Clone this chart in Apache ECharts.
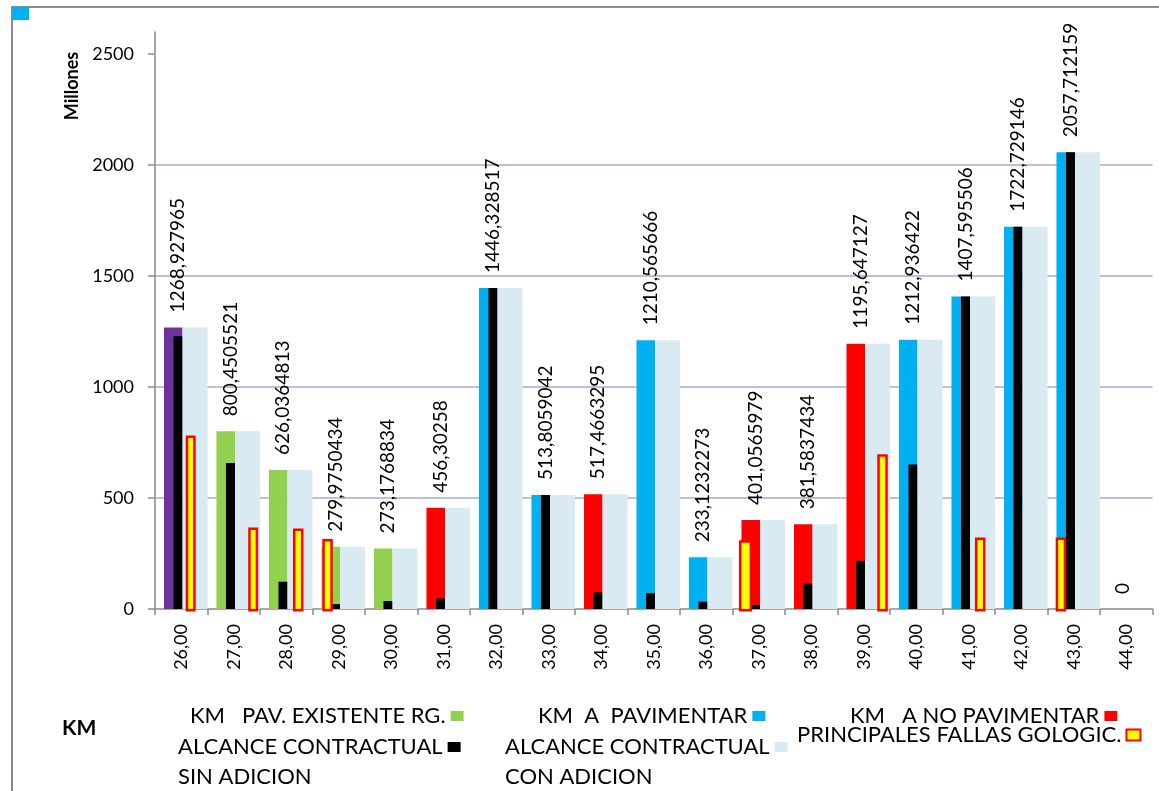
<!DOCTYPE html>
<html>
<head>
<meta charset="utf-8">
<script src="https://cdn.jsdelivr.net/npm/echarts@6/dist/echarts.min.js"></script>
<style>
  html, body { margin: 0; padding: 0; background: #ffffff; }
  #chart { width: 1159px; height: 791px; }
</style>
</head>
<body>
<div id="chart"></div>
<script>
// Kilometre marks along the road (category axis)
const kmMarks = [26, 27, 28, 29, 30, 31, 32, 33, 34, 35, 36, 37, 38, 39, 40, 41, 42, 43, 44];

// Contract scope with addition (millions) – also the printed value of each group
const conAdicion = [1268.927965, 800.4505521, 626.0364813, 279.9750434, 273.1768834, 456.30258,
  1446.328517, 513.8059042, 517.4663295, 1210.565666, 233.1232273, 401.0565979, 381.5837434,
  1195.647127, 1212.936422, 1407.595506, 1722.729146, 2057.712159, 0];

// Contract scope without addition (millions)
const sinAdicion = [1229, 658, 123, 22, 36, 48, 1446.328517, 513.8059042, 75, 71, 33, 18, 115,
  217, 651, 1407.595506, 1722.729146, 2057.712159, 0];

// Section type per km mark
const tramoInicial = [1268.927965, null, null, null, null, null, null, null, null, null, null,
  null, null, null, null, null, null, null, null];
const pavExistente = [null, 800.4505521, 626.0364813, 279.9750434, 273.1768834, null, null, null,
  null, null, null, null, null, null, null, null, null, null, null];
const aPavimentar = [null, null, null, null, null, null, 1446.328517, 513.8059042, null, 1210.565666,
  233.1232273, null, null, null, 1212.936422, 1407.595506, 1722.729146, 2057.712159, null];
const aNoPavimentar = [null, null, null, null, null, 456.30258, null, null, 517.4663295, null, null,
  401.0565979, 381.5837434, 1195.647127, null, null, null, null, null];

// Main geological faults (millions)
const fallas = [782, 367, 363, 315, null, null, null, null, null, null, null, 310, null, 697, null,
  322, null, 322, null];

// Y axis ticks
const yTicks = [0, 500, 1000, 1500, 2000, 2500];

// ---- layout of the marks inside one category band (fractions of the band) ----
const SLOT_MAIN = [0.171, 0.524];
const SLOT_SIN = [0.352, 0.524];
const SLOT_CON = [0.524, 1.0];
const SLOT_FALLA = { 0: [0.585, 0.19], 1: [0.775, 0.19], 2: [0.629, 0.2], 3: [0.187, 0.2],
  11: [0.124, 0.25], 13: [0.758, 0.2], 15: [0.619, 0.2], 17: [0.156, 0.2] };
const LABEL_POS = 0.438;

const FONT = 'Lato';
const C = {
  purple: '#7030a0', green: '#92d050', blue: '#00b0f0', red: '#ff0000',
  black: '#000000', light: '#d9eaf2', yellow: '#ffff00', grid: '#b7c3da', axis: '#8a8a8a'
};

const NAMES = {
  pav: 'KM   PAV. EXISTENTE RG.',
  apav: 'KM  A  PAVIMENTAR',
  nopav: 'KM   A NO PAVIMENTAR',
  sin: 'ALCANCE CONTRACTUAL SIN ADICION',
  con: 'ALCANCE CONTRACTUAL CON ADICION',
  fallas: 'PRINCIPALES FALLAS GOLOGIC.'
};

function pairs(arr) {
  const out = [];
  arr.forEach((v, i) => { if (v !== null && v !== undefined) out.push([i, v]); });
  return out;
}

function bandGeom(api, i, v) {
  const top = api.coord([i, v]);
  const base = api.coord([i, 0]);
  const band = api.size([1, 0])[0];
  return { x0: base[0] - band / 2, band: band, top: top[1], base: base[1] };
}

function barRenderer(slot, fill) {
  return function (params, api) {
    const i = api.value(0), v = api.value(1);
    const g = bandGeom(api, i, v);
    return {
      type: 'rect',
      shape: { x: g.x0 + slot[0] * g.band, y: g.top, width: (slot[1] - slot[0]) * g.band, height: g.base - g.top },
      style: { fill: fill }
    };
  };
}

function fmt(v) { return String(v).replace('.', ','); }

function conRenderer(params, api) {
  const i = api.value(0), v = api.value(1);
  const g = bandGeom(api, i, v);
  return {
    type: 'group',
    children: [
      {
        type: 'rect',
        shape: { x: g.x0 + SLOT_CON[0] * g.band, y: g.top, width: (SLOT_CON[1] - SLOT_CON[0]) * g.band, height: g.base - g.top },
        style: { fill: C.light }
      },
      {
        type: 'text',
        x: g.x0 + LABEL_POS * g.band,
        y: g.top - 15,
        rotation: Math.PI / 2,
        style: { text: fmt(v), fill: '#000', fontFamily: FONT, fontSize: 19, align: 'left', verticalAlign: 'middle' }
      }
    ]
  };
}

function fallaRenderer(params, api) {
  const i = api.value(0), v = api.value(1);
  const g = bandGeom(api, i, v);
  const s = SLOT_FALLA[i] || [0.4, 0.2];
  const lw = 2.5;
  return {
    type: 'rect',
    shape: { x: g.x0 + s[0] * g.band + lw / 2, y: g.top + lw / 2, width: s[1] * g.band - lw, height: g.base - g.top },
    style: { fill: C.yellow, stroke: C.red, lineWidth: lw }
  };
}

const chart = echarts.init(document.getElementById('chart'), null, { renderer: 'canvas' });

const legendBase = {
  orient: 'horizontal', align: 'right', padding: 0, itemGap: 0, itemWidth: 13, itemHeight: 10,
  selectedMode: false, icon: 'rect',
  textStyle: { fontFamily: FONT, fontSize: 22, color: '#000', lineHeight: 24 }
};

const option = {
  backgroundColor: '#ffffff',
  animation: false,
  grid: { left: 155, right: 6.5, top: 32, bottom: 182, containLabel: false },
  xAxis: {
    type: 'category',
    data: kmMarks.map(k => k.toFixed(2).replace('.', ',')),
    boundaryGap: true,
    axisLine: { lineStyle: { color: C.axis, width: 1.5 } },
    axisTick: { show: true, length: 6, lineStyle: { color: C.axis, width: 1.5 } },
    axisLabel: { rotate: 90, margin: 15, color: '#000', fontFamily: FONT, fontSize: 18, interval: 0 },
    splitLine: { show: false }
  },
  yAxis: {
    type: 'value',
    min: 0,
    max: 2600,
    interval: 500,
    axisLine: { show: true, lineStyle: { color: C.axis, width: 1.5 } },
    axisTick: { show: true, inside: false, length: 7, customValues: yTicks, lineStyle: { color: C.axis, width: 1.5 } },
    axisLabel: { customValues: yTicks, margin: 21, color: '#000', fontFamily: FONT, fontSize: 18, formatter: v => String(v) },
    splitLine: { show: true, showMinLine: false, showMaxLine: false, lineStyle: { color: C.grid, width: 2 } }
  },
  legend: [
    Object.assign({}, legendBase, { left: 190, top: 704, data: [NAMES.pav] }),
    Object.assign({}, legendBase, { left: 538, top: 704, data: [NAMES.apav] }),
    Object.assign({}, legendBase, { left: 850, top: 704, data: [NAMES.nopav] }),
    Object.assign({}, legendBase, { left: 178, top: 735, data: [NAMES.sin], formatter: () => 'ALCANCE CONTRACTUAL' }),
    Object.assign({}, legendBase, { left: 505, top: 735, data: [NAMES.con], formatter: () => 'ALCANCE CONTRACTUAL' }),
    Object.assign({}, legendBase, {
      left: 797, top: 723,
      itemWidth: 14, itemHeight: 11,
      data: [{ name: NAMES.fallas, itemStyle: { color: C.yellow, borderColor: C.red, borderWidth: 2 } }]
    })
  ],
  graphic: [
    { type: 'polyline', shape: { points: [[12, 791], [12, 7], [1159, 7]] }, style: { stroke: '#8c8c8c', lineWidth: 2, fill: null }, z: 10 },
    { type: 'rect', shape: { x: 12, y: 7, width: 17, height: 13 }, style: { fill: C.blue }, z: 11 },
    { type: 'text', x: 72, y: 86, rotation: Math.PI / 2,
      style: { text: 'Millones', fill: '#000', fontFamily: FONT, fontWeight: 'bold', fontSize: 18, align: 'center', verticalAlign: 'middle' } },
    { type: 'text', x: 62, y: 728,
      style: { text: 'KM', fill: '#000', fontFamily: FONT, fontWeight: 'bold', fontSize: 21, align: 'left', verticalAlign: 'middle' } },
    { type: 'text', x: 178, y: 777,
      style: { text: 'SIN ADICION', fill: '#000', fontFamily: FONT, fontSize: 22, align: 'left', verticalAlign: 'middle' } },
    { type: 'text', x: 505, y: 777,
      style: { text: 'CON ADICION', fill: '#000', fontFamily: FONT, fontSize: 22, align: 'left', verticalAlign: 'middle' } }
  ],
  series: [
    { type: 'custom', name: 'KM 26', data: pairs(tramoInicial), encode: { x: 0, y: 1 },
      itemStyle: { color: C.purple }, renderItem: barRenderer(SLOT_MAIN, C.purple) },
    { type: 'custom', name: NAMES.pav, data: pairs(pavExistente), encode: { x: 0, y: 1 },
      itemStyle: { color: C.green }, renderItem: barRenderer(SLOT_MAIN, C.green) },
    { type: 'custom', name: NAMES.apav, data: pairs(aPavimentar), encode: { x: 0, y: 1 },
      itemStyle: { color: C.blue }, renderItem: barRenderer(SLOT_MAIN, C.blue) },
    { type: 'custom', name: NAMES.nopav, data: pairs(aNoPavimentar), encode: { x: 0, y: 1 },
      itemStyle: { color: C.red }, renderItem: barRenderer(SLOT_MAIN, C.red) },
    { type: 'custom', name: NAMES.sin, data: pairs(sinAdicion), encode: { x: 0, y: 1 },
      itemStyle: { color: C.black }, renderItem: barRenderer(SLOT_SIN, C.black) },
    { type: 'custom', name: NAMES.con, data: pairs(conAdicion), encode: { x: 0, y: 1 },
      itemStyle: { color: C.light }, renderItem: conRenderer },
    { type: 'custom', name: NAMES.fallas, data: pairs(fallas), encode: { x: 0, y: 1 },
      itemStyle: { color: C.yellow, borderColor: C.red, borderWidth: 2 }, renderItem: fallaRenderer }
  ]
};

chart.setOption(option);
</script>
</body>
</html>
